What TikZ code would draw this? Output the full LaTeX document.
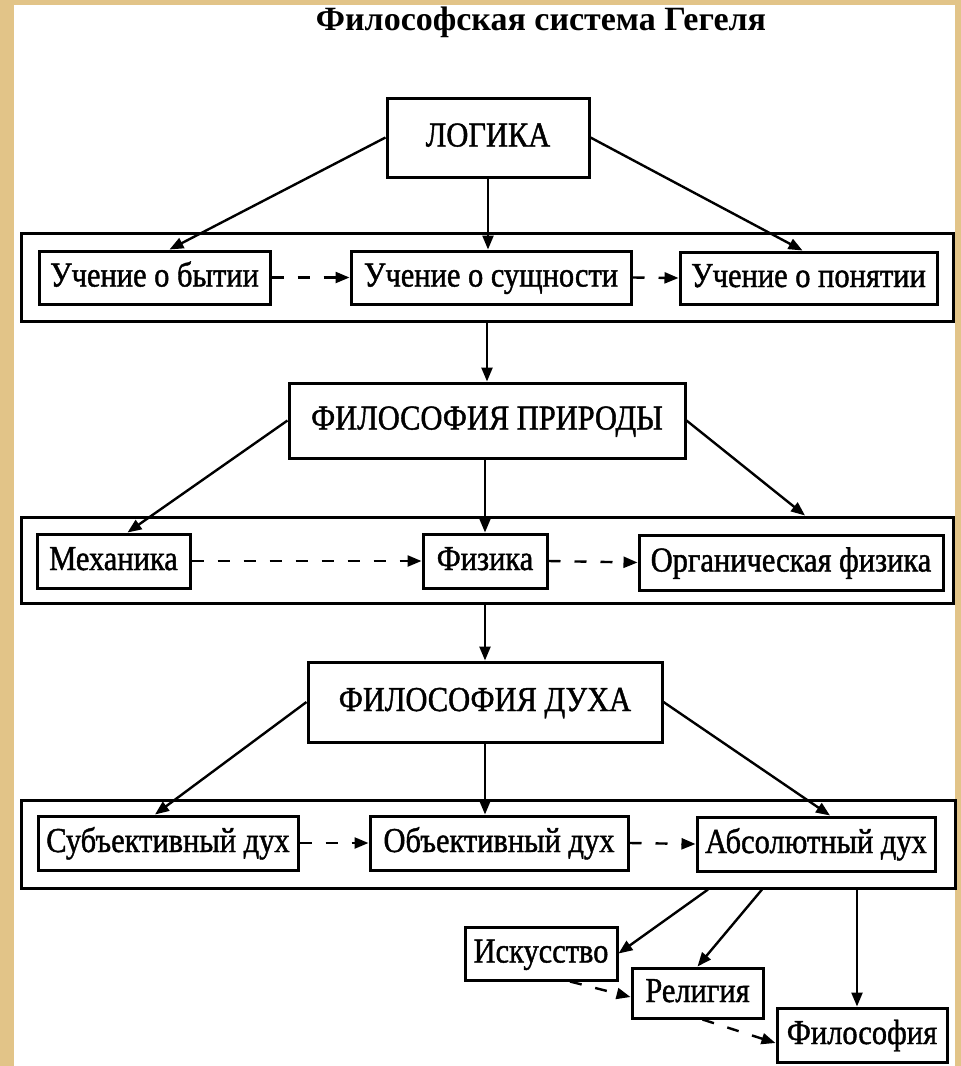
\documentclass[tikz,border=0pt]{standalone}
\usepackage{fontspec}
\setmainfont{Liberation Serif}
\newfontfamily\labfont{Liberation Serif}[FakeStretch=0.87, FakeBold=1.2]
\usetikzlibrary{arrows.meta,calc}
\definecolor{parch}{RGB}{226,196,136}
\tikzset{
  box/.style={draw, line width=3pt, inner sep=0pt, text height=25pt, text depth=7pt,
    font=\labfont\fontsize{35}{40}\selectfont},
  frame/.style={draw, line width=3pt, inner sep=0pt},
  conn/.style={line width=2.4pt, -{Triangle[length=14pt,width=11pt]}},
  dconn/.style={conn, dash pattern=on 12pt off 14pt},
}
\begin{document}
\begin{tikzpicture}[x=1pt,y=-1pt]
\useasboundingbox (0,0) rectangle (961,1066);
\fill[parch] (0,0) rectangle (961,1066);
\fill[white] (14,5) rectangle (955,1066);

\node[font=\bfseries\fontsize{34}{40}\selectfont] (title) at (541,22) {Философская система Гегеля};

% Logic
\node[box, minimum width=202pt, minimum height=79pt] (logic) at (488,137.5) {ЛОГИКА};
\node[frame, minimum width=932pt, minimum height=88pt] (f1) at (487,277) {};
\node[box, minimum width=231pt, minimum height=53pt] (b1) at (154.5,277.5) {Учение о бытии};
\node[box, minimum width=280pt, minimum height=53pt] (b2) at (491,277.5) {Учение о сущности};
\node[box, minimum width=257pt, minimum height=52pt] (b3) at (808.5,278) {Учение о понятии};

% Nature
\node[box, minimum width=396pt, minimum height=75pt] (nat) at (487,420.5) {ФИЛОСОФИЯ ПРИРОДЫ};
\node[frame, minimum width=932pt, minimum height=86pt] (f2) at (487,560) {};
\node[box, minimum width=153pt, minimum height=54pt] (m1) at (113.5,561) {Механика};
\node[box, minimum width=124pt, minimum height=54pt] (m2) at (485,561) {Физика};
\node[box, minimum width=304pt, minimum height=55pt] (m3) at (791,562.5) {Органическая физика};

% Spirit
\node[box, minimum width=354pt, minimum height=80pt] (spirit) at (485,702) {ФИЛОСОФИЯ ДУХА};
\node[frame, minimum width=934pt, minimum height=88pt] (f3) at (488,844) {};
\node[box, minimum width=260pt, minimum height=54pt] (s1) at (168,843) {Субъективный дух};
\node[box, minimum width=258pt, minimum height=54pt] (s2) at (499,843) {Объективный дух};
\node[box, minimum width=238pt, minimum height=54pt] (s3) at (816,844) {Абсолютный дух};

% Absolute spirit
\node[box, minimum width=152pt, minimum height=53pt] (art) at (541,953.5) {Искусство};
\node[box, minimum width=131pt, minimum height=50pt] (rel) at (697.5,993) {Религия};
\node[box, minimum width=170pt, minimum height=54pt] (phil) at (862,1035) {Философия};

% connectors group 1
\draw[conn] (logic.west) -- ([xshift=15pt]b1.north);
\draw[conn] (logic.south) -- (logic.south |- b2.north);
\draw[conn] (logic.east) -- ([xshift=-6pt]b3.north);
\draw[dconn] (b1.east) -- (b2.west);
\draw[dconn] (b2.east) -- (b3.west);
\draw[conn] (f1.south -| nat.north) -- (nat.north);

% group 2
\draw[conn] (nat.west) -- ([xshift=14pt]m1.north);
\draw[conn] (nat.south -| m2.north) -- (m2.north);
\draw[conn] (nat.east) -- ($(m3.north |- f2.north)+(14,0)$);
\draw[dconn] (m1.east) -- (m2.west);
\draw[dconn] (m2.east) -- (m3.west);
\draw[conn] (f2.south -| spirit.north) -- (spirit.north);

% group 3
\draw[conn] (spirit.west) -- ([xshift=-13pt]s1.north);
\draw[conn] (spirit.south) -- (spirit.south |- s2.north);
\draw[conn] (spirit.east) -- ([xshift=14pt]s3.north);
\draw[dconn] (s1.east) -- (s2.west);
\draw[dconn] (s2.east) -- (s3.west);

% bottom
\draw[conn] ($(f3.south)+(220,0)$) -- (art.east);
\draw[conn] ($(f3.south)+(274,0)$) -- (rel.north);
\draw[conn] ($(f3.south)+(369,0)$) -- ($(phil.north)+(-5,0)$);
\draw[dconn] ($(art.south)+(29,0)$) -- ([yshift=-4pt]rel.west);
\draw[dconn] ($(rel.south)+(5,0)$) -- ([yshift=-8pt]phil.west);
\end{tikzpicture}
\end{document}
